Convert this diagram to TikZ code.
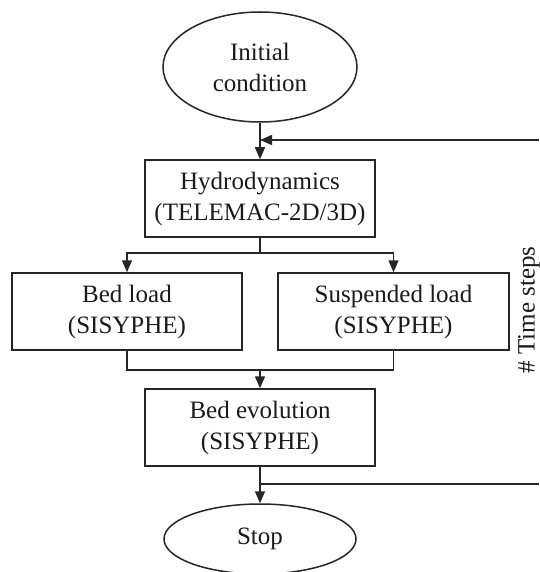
\documentclass[tikz,border=0pt]{standalone}
\usepackage{fontspec}
\setmainfont{Liberation Serif}
\usetikzlibrary{shapes.geometric,arrows.meta}
\definecolor{lineclr}{HTML}{262626}
\definecolor{txtclr}{HTML}{1A1A1A}
\begin{document}
\begin{tikzpicture}[x=1pt,y=-1pt,
  lbl/.style={font=\fontsize{25}{31}\selectfont, text=txtclr},
  box/.style={lbl, draw=lineclr, line width=1.5pt, minimum width=230pt, minimum height=77pt, inner sep=0pt, align=center},
  oval/.style={lbl, ellipse, draw=lineclr, line width=1.5pt, inner sep=0pt, align=center},
  conn/.style={draw=lineclr, line width=1.5pt},
  arr/.style={conn, -{Triangle[width=10pt,length=12pt]}}]
\clip (0,0) rectangle (539,572);
\fill[white] (0,0) rectangle (539,572);

\node[oval, minimum width=194pt, minimum height=110pt] (init) at (260,67) {Initial\\condition};
\node[box] (hydro) at (260,198.5) {Hydrodynamics\\(TELEMAC-2D/3D)};
\node[box] (bed) at (127,311.5) {Bed load\\(SISYPHE)};
\node[box, minimum width=231pt] (susp) at (393.5,311.5) {Suspended load\\(SISYPHE)};
\node[box] (evol) at (260,427.5) {Bed evolution\\(SISYPHE)};
\node[oval, minimum width=192pt, minimum height=70pt] (stop) at (260,539) {Stop};
\node[lbl, rotate=90] (ts) at (529,310) {\# Time steps};

\coordinate (split) at (260,253);
\coordinate (merge) at (260,370);
\coordinate (tap) at (260,484);
\coordinate (edgeB) at (539,484);
\coordinate (edgeT) at (539,140);
\coordinate (join) at (260,140);

\draw[arr] (init) -- (hydro);
\draw[conn] (hydro.south) -- (split);
\draw[arr] (split) -| (bed.north);
\draw[arr] (split) -| (susp.north);
\draw[conn] (bed.south) |- (merge);
\draw[conn] (susp.south) |- (merge);
\draw[arr] (merge) -- (evol.north);
\draw[arr] (evol) -- (stop);
\draw[conn] (tap) -- (edgeB);
\draw[arr] (edgeT) -- (join);
\end{tikzpicture}
\end{document}
